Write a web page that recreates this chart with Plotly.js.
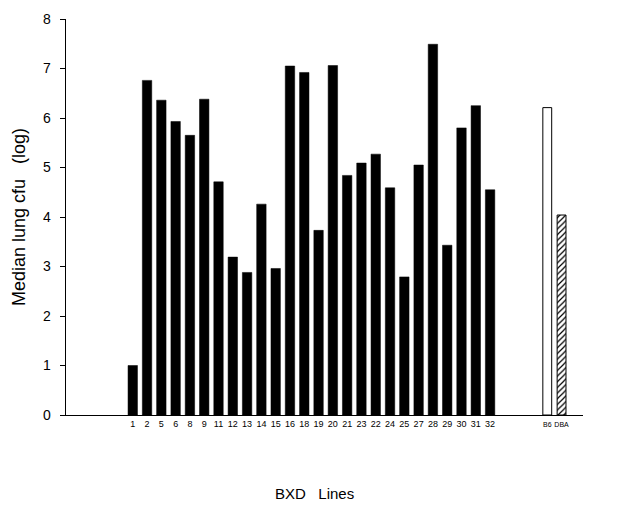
<!DOCTYPE html>
<html>
<head>
<meta charset="utf-8">
<script src="https://cdn.plot.ly/plotly-3.0.1.min.js"></script>
<style>html,body{margin:0;padding:0;background:#fff;}#chart{width:626px;height:515px;}</style>
</head>
<body>
<div id="chart"></div>
<script>
// BXD recombinant inbred lines and their median lung cfu (log)
var bxdLines = ["1","2","5","6","8","9","11","12","13","14","15","16","18","19","20","21","23","22","24","25","27","28","29","30","31","32"];
var bxdValues = [1.00,6.76,6.36,5.93,5.65,6.38,4.71,3.19,2.88,4.26,2.96,7.05,6.92,3.73,7.06,4.84,5.09,5.27,4.59,2.79,5.05,7.49,3.43,5.80,6.25,4.55];
// Parental strains
var parentLabels = ["B6","DBA"];
var parentValues = [6.21,4.04];

var gap = 4; // slot offset between last BXD line and parents
var bxdX = bxdLines.map(function(_, i){ return i; });
var parentX = parentLabels.map(function(_, i){ return bxdLines.length - 1 + gap + i; });
var parentTicks = parentLabels.map(function(s){ return '<span style="font-size:7px">' + s + '</span>'; });

var traces = [
  {type:'bar', x:bxdX, y:bxdValues, width:0.66,
   marker:{color:'#000', line:{color:'#000', width:0.5}}, hoverinfo:'y'},
  {type:'bar', x:[parentX[0]], y:[parentValues[0]], width:0.62,
   marker:{color:'#fff', line:{color:'#000', width:1}}},
  {type:'bar', x:[parentX[1]], y:[parentValues[1]], width:0.62,
   marker:{color:'#fff', line:{color:'#000', width:1},
           pattern:{shape:'/', fgcolor:'#000', bgcolor:'#fff', size:4, solidity:0.3}}}
];

var layout = {
  width:626, height:515,
  margin:{l:66, r:43, t:19, b:100},
  paper_bgcolor:'#fff', plot_bgcolor:'#fff',
  showlegend:false,
  font:{family:'Liberation Sans, Arial, sans-serif', color:'#000'},
  bargap:0,
  xaxis:{
    range:[-4.67, 31.5],
    tickvals:bxdX.concat(parentX),
    ticktext:bxdLines.concat(parentTicks),
    tickangle:0,
    tickfont:{size:9, color:'#000'},
    ticks:'', showgrid:false, zeroline:false,
    showline:true, linecolor:'#000', linewidth:1.3,
    ticklabelstandoff:0
  },
  yaxis:{
    range:[0,8], tickvals:[0,1,2,3,4,5,6,7,8],
    ticks:'outside', ticklen:5, tickwidth:1, tickcolor:'#000',
    tickfont:{size:14, color:'#000'},
    ticklabelstandoff:6,
    showgrid:false, zeroline:false,
    showline:true, linecolor:'#000', linewidth:1.3,
    title:{text:'Median lung cfu\u00a0\u00a0\u00a0(log)', font:{size:18, color:'#000'}, standoff:12}
  },
  annotations:[
    {text:'BXD\u00a0\u00a0\u00a0Lines', xref:'paper', yref:'paper', x:0.48, y:-0.197,
     xanchor:'center', yanchor:'middle', showarrow:false, font:{size:15, color:'#000'}}
  ]
};

Plotly.newPlot('chart', traces, layout, {displayModeBar:false, staticPlot:true});
</script>
</body>
</html>
